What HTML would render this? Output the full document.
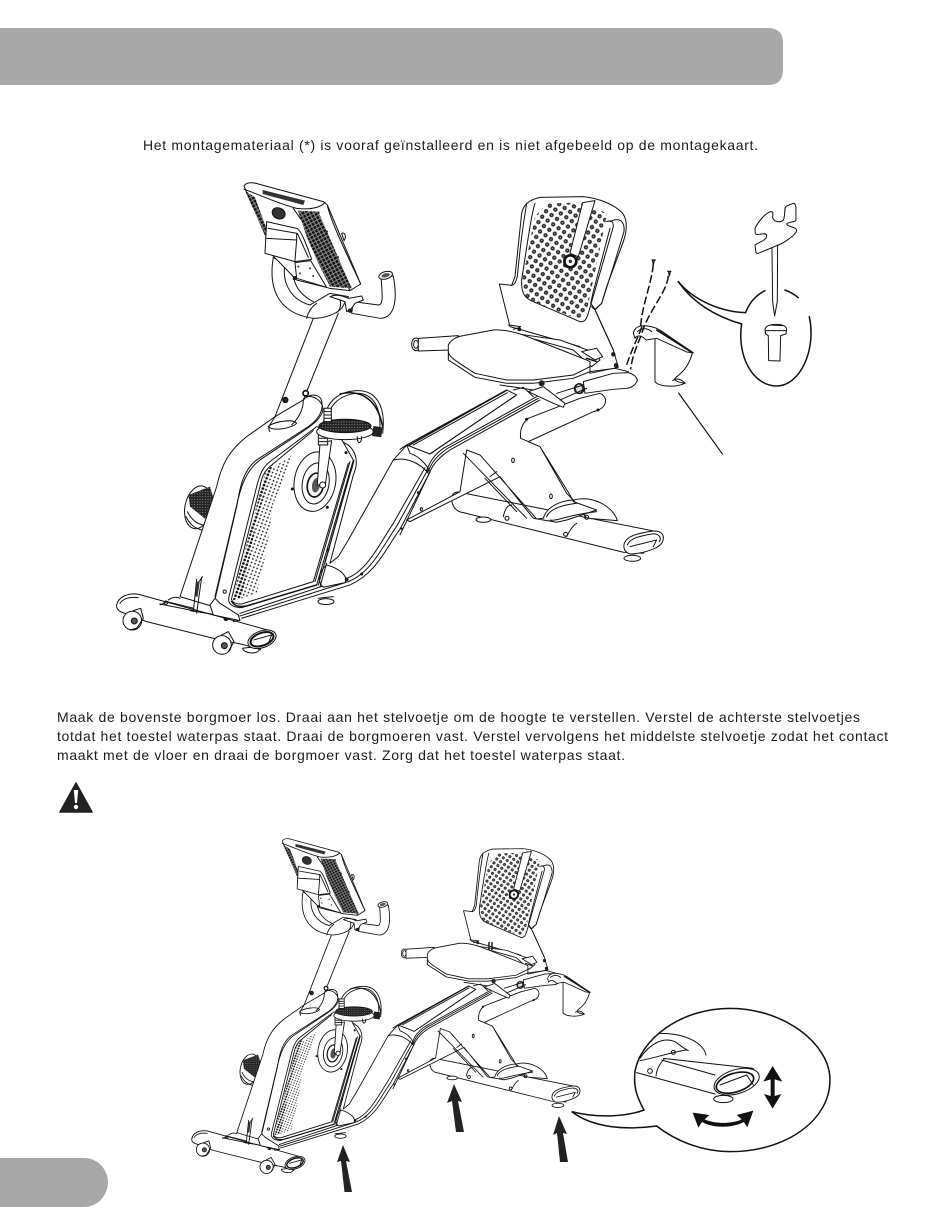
<!DOCTYPE html>
<html><head><meta charset="utf-8">
<style>
html,body{margin:0;padding:0;background:#fff;width:950px;height:1229px;overflow:hidden}
svg{display:block;position:absolute;left:0;top:0}
text{font-family:"Liberation Sans",sans-serif;font-size:14px;fill:#1c1c1c}
.l{fill:none;stroke:#111;stroke-width:var(--s,3);stroke-linecap:round;stroke-linejoin:round}
.w{fill:#fff;stroke:#111;stroke-width:var(--s,3);stroke-linecap:round;stroke-linejoin:round}
.h{fill:none;stroke:#111;stroke-width:4.5;stroke-linecap:round;stroke-linejoin:round}
.d{fill:#222;stroke:#111;stroke-width:3}
</style></head>
<body>
<svg width="950" height="1229" viewBox="0 0 950 1229" xmlns="http://www.w3.org/2000/svg">
<defs>
<pattern id="hat" width="11" height="11" patternUnits="userSpaceOnUse" patternTransform="rotate(-28)"><rect width="11" height="11" fill="#888"/><rect x="0" y="0" width="8" height="8" fill="#111"/></pattern>
<pattern id="dots" width="11" height="11" patternUnits="userSpaceOnUse" patternTransform="rotate(20)"><circle cx="5" cy="5" r="2.6" fill="#222"/></pattern>
<pattern id="dots2" width="11" height="11" patternUnits="userSpaceOnUse" patternTransform="rotate(20)"><circle cx="5" cy="5" r="4" fill="#111"/></pattern>
<pattern id="ring" width="20" height="20" patternUnits="userSpaceOnUse" patternTransform="rotate(35)"><circle cx="10" cy="10" r="6.5" fill="#2a2a2a"/><circle cx="10" cy="10" r="1.8" fill="#bbb"/></pattern>
<pattern id="ped" width="8" height="8" patternUnits="userSpaceOnUse"><rect width="8" height="8" fill="#222"/><circle cx="4" cy="4" r="1.7" fill="#999"/></pattern>

<g id="bike">
<!-- REAR part: zoom2 coords -->
<g transform="translate(400,170) scale(.3333)">
 <path class="w" d="M520 990C580 975 640 1010 652 1052L560 1045Z"/>
 <path class="w" d="M175 966L770 1085 730 1150 670 1147 190 1028C165 1025 155 1005 155 985 155 972 165 966 175 966Z"/>
 <path class="l" d="M310 1040C315 1015 325 1005 335 1005M500 1100C510 1080 520 1065 530 1060"/>
 <circle class="l" cx="321" cy="1045" r="6"/><circle class="l" cx="497" cy="1093" r="6"/><circle class="l" cx="560" cy="1042" r="6"/>
 <ellipse class="w" cx="250" cy="1049" rx="22" ry="8"/><ellipse class="w" cx="697" cy="1165" rx="25" ry="9"/>
 <path class="w" d="M672 1125C675 1100 710 1090 760 1083 785 1082 795 1095 788 1115 780 1135 730 1150 695 1152 680 1152 670 1140 672 1125Z"/>
 <path class="l" d="M682 1125C690 1105 720 1098 755 1092 780 1090 785 1105 778 1115M690 1130L770 1110 760 1130"/>
 <!-- strut + upright -->
 <path class="w" d="M20 1050L180 965 200 840 240 855 410 1047 430 1045C440 1010 480 992 520 990L500 970 420 830 362 805C358 775 372 755 385 745L540 685 600 670C625 680 625 715 580 725L385 815 420 830 510 975 520 995 590 1020 500 1050 470 1057 400 1045 300 920 30 1055Z"/>
 <path class="l" d="M190 850L380 1045M255 925L350 1025M290 905L270 920M440 1040C450 1015 490 1005 530 1000M450 1050C470 1055 500 1035 590 1025"/>
 <ellipse class="l" cx="339" cy="871" rx="4" ry="7"/><ellipse class="l" cx="453" cy="979" rx="4" ry="7"/>
 <circle class="d" cx="380" cy="748" r="3"/><circle class="d" cx="594" cy="720" r="3"/>
 <!-- rails -->
 <path class="l" d="M0 1095L90 905C100 880 120 860 150 840L420 690M0 1060L85 890C95 865 110 850 130 835L410 680M-3 1078L88 897C98 872 115 855 140 837L415 685"/>
 <path class="w" d="M20 825L320 660 350 675 90 852Z"/>
 <path class="h" d="M25 827L318 662"/><path class="l" d="M40 825L322 668M90 852L345 678"/>
 <circle class="d" cx="55" cy="968" r="3"/><ellipse class="l" cx="64" cy="1018" rx="3" ry="5"/>
 <path class="l" d="M0 838L20 825 30 850C60 860 80 885 90 905"/>
 <!-- armrests -->
 <ellipse class="w" cx="48" cy="523" rx="13" ry="19"/><ellipse class="l" cx="48" cy="523" rx="7" ry="12"/>
 <path class="w" d="M55 505L175 497 150 540 55 543Z"/>
 <!-- backrest -->
 <path class="w" d="M298 342L335 346 345 320 365 130C370 105 385 90 420 82L550 80C600 85 645 105 668 130 682 150 682 180 670 215L620 350 605 400 585 420 640 540 655 592 570 610 540 530 330 470Z"/>
 <path class="l" d="M405 100C395 130 385 200 365 330 363 370 375 385 400 395L540 455C555 458 560 445 565 430L640 170C640 155 635 150 620 155"/>
 <path class="l" d="M630 155C660 140 675 155 672 185L640 290 605 400 585 418 572 400 580 365 630 175"/>
 <path class="l" d="M380 100C375 135 365 180 352 320 345 345 340 345 335 346M325 465L362 470M340 478L360 472"/>
 <path d="M440 100L540 98 622 130 558 435 540 450 375 385 367 330 405 140Z" fill="url(#ring)"/>
 <path class="w" d="M510 250L548 98 585 92 535 260Z"/>
 <circle cx="511" cy="274" r="18" fill="#fff" stroke="#111" stroke-width="8"/><circle cx="511" cy="274" r="5" fill="#333"/>
 <circle class="d" cx="358" cy="478" r="4"/><circle class="d" cx="640" cy="553" r="5"/><circle class="d" cx="648" cy="586" r="5"/>
 <path class="l" d="M588 425L640 540M575 410L585 420"/>
 <!-- seat -->
 <path class="w" d="M340 490L480 510 590 550 600 570 575 590 520 540Z"/>
 <path class="w" d="M145 525C155 505 175 500 190 497L280 480C310 478 340 485 370 495L560 570 570 575 570 605 520 625 400 640 320 640 225 622 145 570Z"/>
 <path class="l" d="M145 545C145 560 170 575 225 610L320 630 400 630 520 615 570 590"/>
 <path class="w" d="M545 545L590 535 608 560 585 570Z"/><path class="h" d="M560 565L590 575"/>
 <!-- arm right -->
 <path class="l" d="M570 605L645 595 685 605"/>
 <path class="w" d="M550 635L640 610 685 608C700 612 712 622 712 632 705 648 690 655 680 655L640 658 555 670Z"/>
 <circle cx="538" cy="656" r="15" fill="#333" stroke="#111" stroke-width="3"/><ellipse cx="537" cy="656" rx="9" ry="12" fill="#ddd"/>
 <!-- lever -->
 <path class="w" d="M385 665L430 650 495 700 490 712 460 700Z"/>
 <circle cx="425" cy="640" r="9" fill="#222"/><path class="l" d="M300 645L400 660M340 660L370 652 400 680M470 670L550 645M480 690L560 655"/>
</g>
<!-- FRONT part: zoom1 coords -->
<g transform="translate(100,170) scale(.3333)">
 <!-- rear flywheel knob -->
 <ellipse cx="295" cy="1012" rx="40" ry="65" transform="rotate(12 295 1012)" class="w"/>
 <path d="M265 975L330 950 345 1000 320 1050 270 1010Z" fill="url(#ped)"/>
 <path class="l" d="M258 1040C270 1065 285 1075 305 1080M262 1025C275 1050 290 1062 310 1065"/>
 <!-- body + lower rail -->
 <path d="M920 825L880 870 715 1165 680 1185 655 1245 420 1345 750 1240C830 1205 860 1130 900 1075L990 906 985 910C960 880 920 860 880 870Z" fill="#fff"/>
 <path class="l" d="M920 826L880 870 745 1110 715 1160 690 1180M880 870C920 860 960 880 985 910"/>
 <path class="l" d="M425 1345L750 1245C830 1210 860 1130 900 1078L990 906M420 1330L740 1225C800 1205 840 1120 880 1060L975 893M420 1338L745 1235C815 1208 850 1125 890 1069L983 900"/>
 <path class="w" d="M680 1185C720 1195 745 1220 735 1238L670 1252C655 1240 650 1210 680 1185Z"/>
 <circle class="d" cx="740" cy="1228" r="4"/><circle class="d" cx="785" cy="1212" r="3"/><circle class="d" cx="955" cy="968" r="3"/><circle class="d" cx="905" cy="1076" r="2"/>
 <ellipse class="w" cx="678" cy="1295" rx="24" ry="9"/><path class="l" d="M655 1285L700 1280"/>
 <!-- shroud behind pedal -->
 <path class="l" d="M725 815C765 830 780 870 760 915L690 1180M735 845C760 860 765 880 750 910L675 1180"/>
 <!-- column -->
 <path class="w" d="M525 740L440 800C390 840 365 880 350 950L240 1280 340 1310 410 1010C420 950 430 900 470 870L625 770C660 745 675 715 662 685 650 672 630 670 610 690Z"/>
 <path class="l" d="M640 445L525 740M715 430L610 690"/>
 <path class="l" d="M505 770C520 755 580 745 590 760 575 775 520 785 505 770ZM510 785C500 770 515 760 525 740M575 765C600 740 610 715 610 690"/>
 <path class="l" d="M615 680C650 675 672 700 668 725 660 750 630 770 600 790L480 870C440 900 425 945 415 985L345 1280"/>
 <circle cx="556" cy="690" r="8" class="d"/><circle cx="617" cy="670" r="8" style="fill:#fff;stroke:#111;stroke-width:5"/>
 <!-- panel -->
 <path class="w" d="M650 770L510 875C490 890 480 910 470 950L387 1280C382 1300 395 1313 425 1313L650 1245 760 870 720 800Z"/>
 <path class="l" d="M640 782L515 885C495 900 485 920 480 950L395 1285C393 1295 405 1303 425 1302L640 1235 745 880"/>
 <path class="h" d="M395 1295C405 1310 420 1312 440 1308L650 1245"/>
 <path class="l" d="M655 1245L762 872M645 1235L750 875M660 1250L680 1180"/>
 <path d="M580 852L495 910 395 1295 470 1270 500 1140 520 1000 550 930Z" fill="url(#dots)"/>
 <path d="M520 880L495 910 398 1290 425 1285 470 1050Z" fill="url(#dots2)"/>
 <!-- flywheel -->
 <g transform="rotate(10 645 935)">
 <ellipse class="w" cx="645" cy="935" rx="62" ry="90"/>
 <ellipse class="l" cx="648" cy="940" rx="40" ry="62"/>
 <ellipse cx="648" cy="945" rx="24" ry="36" fill="#fff" stroke="#111" stroke-width="5"/>
 <ellipse cx="650" cy="945" rx="12" ry="22" fill="#555"/>
 </g>
 <circle class="d" cx="577" cy="957" r="3"/><circle class="d" cx="738" cy="848" r="3"/><circle class="d" cx="682" cy="1012" r="3"/><circle class="d" cx="684" cy="1140" r="3"/><circle class="l" cx="374" cy="1265" r="5"/>
 <!-- crank -->
 <path class="w" d="M660 820L695 812 676 945 652 945Z"/><circle class="w" cx="668" cy="945" r="9"/>
 <rect x="655" y="795" width="28" height="30" class="w"/><path class="l" d="M658 805H680M658 815H680"/>
 <!-- pedal -->
 <path class="l" d="M680 770C680 705 720 675 770 670 820 670 848 715 838 790M670 775C670 700 710 665 770 662 830 660 858 710 848 790"/>
 <path class="h" d="M720 672C770 660 830 675 848 770"/>
 <ellipse class="w" cx="735" cy="785" rx="85" ry="24"/><ellipse cx="735" cy="768" rx="78" ry="20" fill="url(#ped)" stroke="#111" stroke-width="3"/>
 <path class="l" d="M772 800C770 822 785 825 785 800"/>
 <rect x="818" y="770" width="28" height="30" fill="#222" transform="rotate(8 832 785)"/><rect x="672" y="715" width="22" height="40" class="w"/><path class="l" d="M674 725H692M674 735H692M674 745H692"/>
 <!-- handlebars -->
 <path class="w" d="M520 262C505 350 530 430 640 445 680 445 710 430 725 415L745 380 690 370 630 405C575 390 545 340 555 285Z"/>
 <path class="l" d="M580 285C575 330 590 370 640 395M620 445C625 425 635 410 650 400M720 390C725 405 720 420 710 428"/>
 <path class="w" d="M760 395L835 405C850 405 848 380 843 318L880 318C895 400 880 445 840 445L755 430Z"/>
 <ellipse cx="857" cy="316" rx="21" ry="11" transform="rotate(-15 857 316)" class="w"/><ellipse cx="857" cy="316" rx="13" ry="6" fill="#555" transform="rotate(-15 857 316)"/>
 <path class="w" d="M690 380C710 370 735 380 745 385L785 378 790 390 765 400 755 415 740 425 735 395Z"/>
 <circle class="d" cx="750" cy="422" r="5"/>
 <!-- console -->
 <path class="w" d="M725 190C735 185 740 200 732 212Z"/>
 <path class="w" d="M432 48C440 35 460 37 475 42L670 95 682 105 782 342 750 362 690 355 590 330 510 248 498 200Z"/>
 <path class="l" d="M432 58C470 70 530 100 590 115 630 120 665 112 675 97M580 115L750 360M682 105C690 145 720 210 782 342"/>
 <path d="M435 62L465 82 505 190 500 205Z" fill="url(#hat)"/>
 <path d="M594 122L655 125 755 355 690 350 655 280 620 200Z" fill="url(#hat)"/>
 <path d="M488 60L615 92 610 105 488 72Z" fill="#333"/>
 <ellipse cx="536" cy="130" rx="20" ry="16" transform="rotate(25 536 130)" fill="#333" stroke="#111" stroke-width="3"/>
 <path class="w" d="M500 155L590 175C605 180 625 240 635 268L585 275 495 250Z"/>
 <path class="l" d="M505 175L592 190 625 262M500 205L590 210 585 272M590 190V210"/>
 <path class="w" d="M585 278L632 272 680 352 590 325Z"/>
 <g fill="#333"><circle cx="595" cy="290" r="3"/><circle cx="630" cy="295" r="3"/><circle cx="600" cy="310" r="3"/><circle cx="640" cy="318" r="3"/><circle cx="655" cy="128" r="4"/><circle cx="680" cy="185" r="4"/><circle cx="713" cy="262" r="4"/><circle cx="750" cy="350" r="4"/></g>
 <path class="d" d="M580 320H588V328H580Z"/>
 <!-- front base -->
 <path class="w" d="M50 1305C55 1280 85 1268 115 1273L510 1382 480 1440 435 1425 340 1405 140 1355 75 1330C55 1325 48 1315 50 1305Z"/>
 <path class="l" d="M180 1302L420 1350 400 1355M180 1305L200 1295 280 1315M270 1322L415 1345M205 1290C220 1280 230 1280 240 1285"/>
 <path class="l" d="M60 1300C70 1285 90 1280 115 1283"/>
 <circle class="l" cx="198" cy="1298" r="5"/><circle class="d" cx="378" cy="1346" r="6"/>
 <path class="w" d="M330 1305L345 1285 360 1300 415 1335 420 1352 340 1335Z"/>
 <path class="l" d="M290 1228L280 1325M305 1222L290 1330M293 1240L308 1220"/><rect x="288" y="1235" width="8" height="45" fill="#333" transform="rotate(8 292 1257)"/>
 <circle class="w" cx="97" cy="1352" r="28"/><circle cx="103" cy="1353" r="9" fill="#555" stroke="#111" stroke-width="3"/>
 <path class="l" d="M100 1322L122 1315 130 1345 110 1375 90 1380"/>
 <circle class="w" cx="366" cy="1425" r="28"/><circle cx="373" cy="1427" r="9" fill="#555" stroke="#111" stroke-width="3"/>
 <path class="l" d="M365 1395L385 1385 402 1415 385 1445"/>
 <path class="w" d="M428 1435C430 1450 470 1455 478 1440L470 1430Z"/>
 <ellipse class="w" cx="486" cy="1408" rx="44" ry="25" transform="rotate(-20 486 1408)"/>
 <ellipse cx="486" cy="1408" rx="36" ry="19" transform="rotate(-20 486 1408)" fill="#fff" stroke="#111" stroke-width="6"/>
 <path class="l" d="M462 1410L515 1395 505 1420"/>
</g>
</g>

<g id="holder" transform="translate(400,170) scale(.3333)">
 <path class="w" d="M765 505L765 635C780 652 830 652 855 640 840 638 815 632 828 622 850 605 865 590 877 550L770 495Z"/>
 <path class="l" d="M818 632C830 622 845 628 855 640"/>
 <path class="w" d="M700 490C705 465 730 462 770 475L880 548 860 546 770 505 738 510C725 495 710 495 705 505Z"/>
 <path class="l" d="M772 482L868 542M780 480L878 548M712 485C725 472 745 475 755 485"/>
 <path class="h" d="M770 480L872 545"/>
</g>
</defs>

<rect width="950" height="1229" fill="#fff"/>
<!-- header -->
<path d="M0 28H768Q783 28 783 43V70Q783 85 768 85H0Z" fill="#a8a8a8"/>
<!-- footer tab -->
<path d="M0 1158H84C98 1158 108 1170 108 1182 108 1195 98 1207 84 1207H0Z" fill="#a8a8a8"/>

<text x="143" y="150" textLength="615" lengthAdjust="spacing">Het montagemateriaal (*) is vooraf geïnstalleerd en is niet afgebeeld op de montagekaart.</text>
<text x="57" y="722" textLength="803" lengthAdjust="spacing">Maak de bovenste borgmoer los. Draai aan het stelvoetje om de hoogte te verstellen. Verstel de achterste stelvoetjes</text>
<text x="57" y="741" textLength="831" lengthAdjust="spacing">totdat het toestel waterpas staat. Draai de borgmoeren vast. Verstel vervolgens het middelste stelvoetje zodat het contact</text>
<text x="57" y="760" textLength="568" lengthAdjust="spacing">maakt met de vloer en draai de borgmoer vast. Zorg dat het toestel waterpas staat.</text>

<!-- warning -->
<path d="M76 783L92 812H60Z" fill="#222" stroke="#222" stroke-width="1.5" stroke-linejoin="round"/>
<path d="M73.800 790H78.200L77 803H75Z" fill="#fff"/><circle cx="76" cy="807" r="2.200" fill="#fff"/>

<use href="#bike"/>
<use href="#holder"/>

<!-- top callout group, zoom2 coords -->
<g transform="translate(400,170) scale(.3333)">
 <path d="M760 283C755 340 725 410 722 470M726 470C715 500 690 550 678 592" fill="none" stroke="#111" stroke-width="4.500" stroke-dasharray="24 9"/>
 <path d="M805 318C800 370 745 420 722 500 705 540 695 570 692 598" fill="none" stroke="#111" stroke-width="4.500" stroke-dasharray="24 9"/>
 <path class="l" d="M756 270H766M758 272L760 285 763 272M803 304H813M806 306L808 318 811 306" style="stroke-width:3.500"/>
 <path d="M835 668L968 853" stroke="#111" stroke-width="3.500"/>
 <!-- bubble -->
 <path d="M835 335C880 390 960 425 1037 428C1050 392 1075 372 1095 362" fill="none" stroke="#111" stroke-width="4.500" stroke-linecap="round"/>
 <path d="M1155 360C1170 365 1185 375 1195 383" fill="none" stroke="#111" stroke-width="4.500" stroke-linecap="round"/>
 <path d="M1228 440C1250 540 1200 648 1130 648 1060 648 1010 560 1025 462 950 440 880 400 835 335" fill="none" stroke="#111" stroke-width="4.500" stroke-linecap="round"/>
 <!-- tool -->
 <path class="w" d="M1065 175C1075 155 1095 130 1112 125 1122 123 1118 135 1118 142 1120 155 1140 160 1150 150 1158 135 1150 115 1160 108L1180 100C1188 100 1188 110 1188 125V150C1188 157 1165 155 1160 162 1165 172 1190 170 1190 182 1188 195 1150 220 1135 225L1075 250C1065 252 1068 240 1065 225 1080 215 1102 210 1100 195 1095 185 1068 200 1066 190Z"/>
 <path class="l" d="M1116 235L1118 395 1124 438 1132 395 1133 225"/>
 <path class="w" d="M1095 480C1095 468 1110 463 1128 463 1150 463 1160 470 1160 480L1158 492 1142 497 1140 573 1106 572 1105 497 1097 492Z"/>
 <path class="l" d="M1097 482L1158 482M1110 465L1148 467"/>
</g>

<!-- second bike -->
<use href="#bike" transform="translate(109,709) scale(.71)" style="--s:3.600"/>
<use href="#holder" transform="translate(98,742) scale(.71)" style="--s:3.600"/>
<path d="M489 942V950M492 942V950" stroke="#111" stroke-width="1.4"/>

<!-- arrows -->
<g fill="#222">
<path d="M343 1145L350 1162 346 1161 352 1192 344.500 1192 341 1161 337 1162Z"/>
<path d="M454 1084L462 1102 458 1101 464 1132 456 1132 452 1101 447 1103Z"/>
<path d="M559 1116L567 1134 563 1133 568 1162 560 1162 557 1133 553 1135Z"/>
</g>

<!-- magnifier, zoom4 coords -->
<g transform="translate(540,1000) scale(.3333)">
 <path d="M95 335C170 355 260 350 312 330 290 290 280 260 285 215 300 120 420 25 570 25 730 25 870 130 870 240 870 360 740 455 570 455 490 455 410 425 350 378 260 390 160 385 95 335Z" fill="#fff" stroke="#111" stroke-width="4.500"/>
 <path class="l" d="M360 100C440 100 490 130 498 165M300 175C330 130 370 110 405 125 420 135 430 145 445 152"/>
 <path class="l" d="M300 182C340 175 400 155 440 150M370 175L640 205M372 178C360 190 350 205 348 228M290 218L525 282M365 180L525 225"/>
 <circle class="l" cx="330" cy="213" r="7"/><circle class="l" cx="400" cy="157" r="6"/>
 <ellipse class="w" cx="550" cy="297" rx="29" ry="11"/>
 <ellipse class="w" cx="590" cy="245" rx="70" ry="36" transform="rotate(-17 590 245)"/>
 <ellipse cx="585" cy="248" rx="58" ry="28" transform="rotate(-17 585 248)" fill="#fff" stroke="#111" stroke-width="5"/>
 <path class="l" d="M540 255L620 225 640 255"/>
 <path d="M698 198L727 245 704 238 704 288 724 282 698 326 672 282 692 288 692 238 670 245Z" fill="#111"/>
 <path d="M458 338L508 345 494 358C525 372 575 372 605 358L590 345 640 332 622 382 612 366C575 385 520 385 486 366L475 383Z" fill="#111"/>
</g>
</svg>
</body></html>
